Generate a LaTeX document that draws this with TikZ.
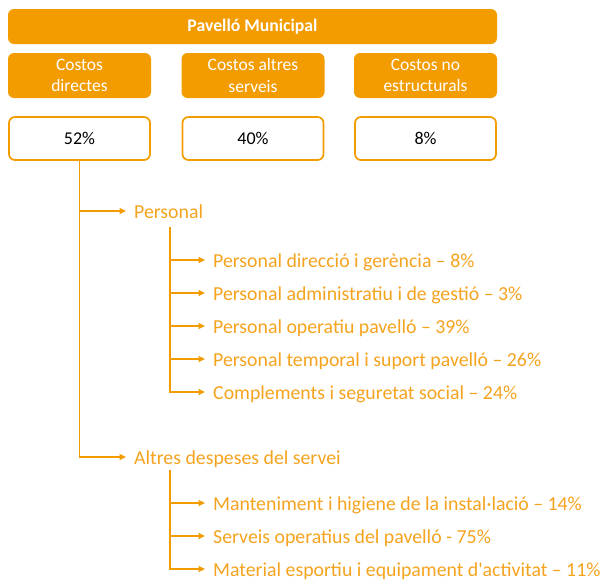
\documentclass[tikz,border=0pt]{standalone}
\usepackage{fontspec}
\setmainfont{Carlito}[Ligatures=TeXOff]
\usetikzlibrary{arrows.meta,positioning,calc}
\definecolor{taronja}{RGB}{243,156,0}
\definecolor{txtaronja}{RGB}{245,163,30}

\begin{document}
\begin{tikzpicture}[x=1pt,y=-1pt,>={Triangle[length=6.5pt,width=6pt]},font=\fontsize{19.8}{22}\selectfont]
  \tikzset{
    capsa/.style={rounded corners=6pt,minimum width=143pt,minimum height=45pt,inner sep=0pt},
    capcost/.style={capsa,fill=taronja,text=white,align=center,font=\fontsize{17.5}{21.5}\selectfont},
    pct/.style={capsa,draw=taronja,line width=1.7pt,minimum width=141pt,minimum height=43pt,font=\fontsize{18}{20}\selectfont},
    item/.style={anchor=west,inner sep=0pt,text=txtaronja,text height=14pt,text depth=0pt},
    linia/.style={draw=taronja,line width=1.8pt},
    fletxa/.style={linia,->,shorten >=8pt},
  }
  \useasboundingbox (0,0) rectangle (606,581);
  % capçalera
  \node[capsa,fill=taronja,minimum width=489pt,minimum height=35pt,text=white,font=\bfseries\fontsize{17.7}{20}\selectfont] (titol) at (252.5,26.5) {Pavelló Municipal};
  % tipus de costos i percentatges
  \foreach \nom/\cx/\txt/\val in {dir/79.5/{Costos\\directes}/{52\%},alt/253/{Costos altres\\serveis}/{40\%},nes/425.5/{Costos no\\estructurals}/{8\%}}{
    \node[capcost] (c-\nom) at (\cx,75.5) {\txt};
    \node[pct] (p-\nom) at (\cx,138.5) {\val};
  }
  % desglossament dels costos directes
  \node[item] (pers) at (134,211) {Personal};
  \node[item] (altr) at (134,457) {Altres despeses del servei};
  \foreach \i/\y/\txt in {1/260/{Personal direcció i gerència – 8\%},
                          2/293/{Personal administratiu i de gestió – 3\%},
                          3/326/{Personal operatiu pavelló – 39\%},
                          4/359/{Personal temporal i suport pavelló – 26\%},
                          5/392/{Complements i seguretat social – 24\%}}
    \node[item] (pers\i) at (213,\y) {\txt};
  \foreach \i/\y/\txt in {1/503/{Manteniment i higiene de la instal·lació – 14\%},
                          2/536/{Serveis operatius del pavelló - 75\%},
                          3/569/{Material esportiu i equipament d'activitat – 11\%}}
    \node[item] (altr\i) at (213,\y) {\txt};
  % connectors
  \draw[fletxa] (p-dir.south) |- (altr.west);
  \draw[fletxa] (p-dir.south |- pers.west) -- (pers.west);
  \coordinate (bp) at (170,227);
  \coordinate (ba) at (170,470);
  \draw[fletxa] (bp) |- (pers5.west);
  \foreach \i in {1,...,4} \draw[fletxa] (bp |- pers\i.west) -- (pers\i.west);
  \draw[fletxa] (ba) |- (altr3.west);
  \foreach \i in {1,2} \draw[fletxa] (ba |- altr\i.west) -- (altr\i.west);
\end{tikzpicture}
\end{document}
